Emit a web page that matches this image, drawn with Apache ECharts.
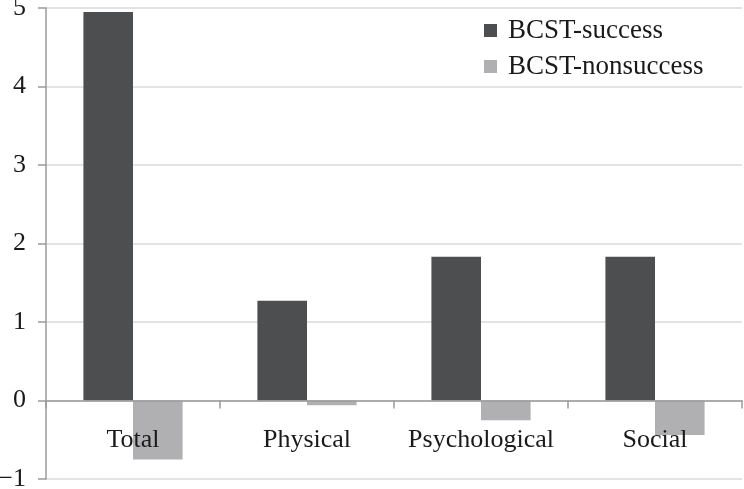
<!DOCTYPE html>
<html>
<head>
<meta charset="utf-8">
<script src="https://cdn.jsdelivr.net/npm/echarts@6/dist/echarts.min.js"></script>
<style>
  html, body { margin: 0; padding: 0; background: #fff; }
  #chart { width: 744px; height: 489px; }
</style>
</head>
<body>
<div id="chart"></div>
<script>
  const categories = ['Total', 'Physical', 'Psychological', 'Social']
  const successValues = [4.95, 1.27, 1.83, 1.83]
  const nonsuccessValues = [-0.75, -0.06, -0.25, -0.44]

  const font = 'Liberation Serif'
  const chart = echarts.init(document.getElementById('chart'))

  const option = {
    animation: false,
    backgroundColor: '#fff',
    grid: { left: 46, right: 2, top: 8, bottom: 10, containLabel: false, outerBoundsMode: 'none' },
    legend: {
      orient: 'vertical',
      left: 479,
      top: 12,
      itemWidth: 13,
      itemHeight: 13,
      itemGap: 9,
      icon: 'rect',
      textStyle: { fontFamily: font, fontSize: 27, color: '#1a1a1a', padding: [0, 0, 0, 6] },
      data: ['BCST-success', 'BCST-nonsuccess']
    },
    xAxis: {
      type: 'category',
      data: categories,
      z: 5,
      axisLine: { onZero: true, lineStyle: { color: '#9a9a9a', width: 1.5 } },
      axisTick: { show: true, length: 8, lineStyle: { color: '#9a9a9a', width: 1.5 } },
      // labels sit just under the zero line, not at the grid bottom
      axisLabel: { fontFamily: font, fontSize: 26, color: '#1a1a1a', margin: -52, interval: 0, hideOverlap: false },
      splitLine: { show: false }
    },
    yAxis: {
      type: 'value',
      min: -1,
      max: 5,
      interval: 1,
      axisLine: { show: true, lineStyle: { color: '#9a9a9a', width: 1.5 } },
      axisTick: { show: true, length: 8, lineStyle: { color: '#9a9a9a', width: 1.5 } },
      axisLabel: {
        fontFamily: font, fontSize: 26, color: '#1a1a1a', margin: 20,
        formatter: v => String(v).replace('-', '\u2212')
      },
      splitLine: { lineStyle: { color: '#dadada', width: 1.5 } }
    },
    series: [
      {
        name: 'BCST-success',
        type: 'bar',
        data: successValues,
        itemStyle: { color: '#4d4e50' },
        barGap: '0%',
        barCategoryGap: '43%'
      },
      {
        name: 'BCST-nonsuccess',
        type: 'bar',
        data: nonsuccessValues,
        itemStyle: { color: '#b0b0b3' }
      }
    ]
  }
  chart.setOption(option)
</script>
</body>
</html>
